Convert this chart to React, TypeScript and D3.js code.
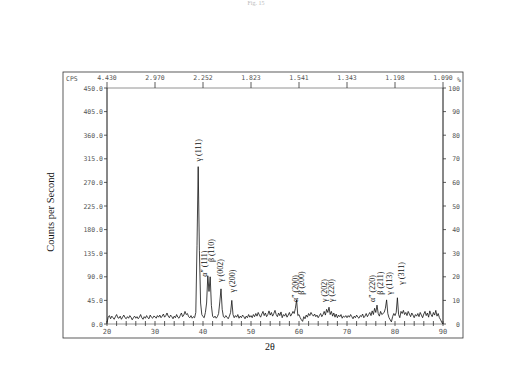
import * as d3 from 'd3'

// 2θ grid: 20° to 90°, 0.25° step
const START = 20
const STEP = 0.25
const counts = [
  // 20 - 29.75
  3, 13, 16, 10, 15, 12, 9, 14, 18, 12, 11, 15, 9, 13, 17, 12, 10, 14, 11, 16,
  13, 8, 12, 15, 11, 14, 10, 13, 18, 12, 9, 14, 11, 16, 12, 10, 17, 13, 11, 15,
  // 30 - 39.75
  14, 11, 16, 13, 17, 12, 15, 19, 13, 16, 21, 15, 12, 17, 14, 10, 15, 12, 18, 13,
  11, 16, 21, 14, 17, 24, 18, 20, 14, 12, 16, 11, 14, 12, 22, 150, 300, 140, 40, 18,
  // 40 - 49.75
  14, 12, 22, 40, 92, 62, 90, 35, 15, 12, 15, 11, 14, 20, 42, 67, 28, 14, 12, 16,
  13, 10, 15, 22, 45, 18, 12, 16, 13, 18, 11, 15, 12, 17, 14, 10, 15, 12, 18, 13,
  // 50 - 59.75
  16, 12, 18, 14, 20, 15, 22, 17, 13, 19, 24, 16, 21, 14, 18, 25, 17, 22, 15, 20,
  26, 18, 14, 21, 16, 23, 12, 18, 15, 20, 13, 17, 22, 15, 19, 24, 20, 30, 46, 16,
  // 60 - 69.75
  18, 12, 8, 5, 14, 10, 17, 13, 20, 16, 22, 18, 15, 19, 14, 17, 12, 16, 20, 14,
  18, 24, 17, 28, 22, 32, 18, 24, 15, 21, 13, 19, 12, 17, 14, 18, 11, 15, 13, 16,
  // 70 - 79.75
  12, 16, 13, 18, 14, 10, 15, 12, 17, 13, 11, 16, 14, 19, 12, 15, 20, 14, 18, 22,
  16, 25, 18, 30, 22, 36, 20, 15, 24, 18, 20, 22, 30, 46, 20, 12, 8, 4, 14, 20,
  // 80 - 90
  16, 22, 50, 18, 12, 24, 20, 26, 18, 22, 16, 24, 19, 14, 21, 17, 12, 18, 15, 20,
  14, 22, 17, 12, 19, 24, 16, 21, 13, 25, 18, 14, 22, 17, 26, 15, 20, 12, 8, 3, 0,
]

const leftTicks = [0, 45, 90, 135, 180, 225, 270, 315, 360, 405, 450]
const rightTicks = [0, 10, 20, 30, 40, 50, 60, 70, 80, 90, 100]
const xMajor = [20, 30, 40, 50, 60, 70, 80, 90]
const dLabels = ['4.430', '2.970', '2.252', '1.823', '1.541', '1.343', '1.198', '1.090']

// peak annotations: text, 2θ of the label column, counts at label bottom
const peakText = [
  'γ (111)', 'α\u2033 (111)', 'β (110)', 'γ (002)', 'γ (200)',
  'α\u2033 (200)', 'β (200)', 'γ (202)', 'γ (220)',
  'α\u2033 (220)', 'β (211)', 'γ (113)', 'γ (311)',
]
const peakPos = [38.9, 40.2, 41.7, 43.6, 46.1, 59.2, 60.4, 65.3, 66.6, 75.2, 76.8, 78.8, 81.2]
const peakBase = [310, 90, 118, 80, 60, 42, 56, 42, 42, 42, 56, 56, 75]

export default function App() {
  const W = 512
  const H = 369
  const x = d3.scaleLinear().domain([20, 90]).range([107, 443])
  const y = d3.scaleLinear().domain([0, 450]).range([324, 88])
  const yr = d3.scaleLinear().domain([0, 100]).range([324, 88])

  const line = d3
    .line<number>()
    .x((_, i) => x(START + i * STEP))
    .y((d) => y(d))

  const minor = d3.range(20, 91, 2)
  const mono = 'DejaVu Sans Mono, monospace'
  const serif = 'Liberation Serif, Times New Roman, serif'
  const grey = '#555'

  return (
    <svg width={W} height={H} style={{ position: 'absolute', left: 0, top: 0, background: '#fff' }}>
      <rect width={W} height={H} fill="#fff" />
      <text x={256} y={5} fontSize={6} fill="#bbb" fontFamily={serif} textAnchor="middle">Fig. 15</text>

      {/* outer frame */}
      <rect x={63} y={72} width={400} height={266} fill="none" stroke="#333" strokeWidth={0.8} />

      {/* plot box */}
      <line x1={107} x2={443} y1={88} y2={88} stroke="#777" strokeWidth={0.8} />
      <line x1={107} x2={107} y1={88} y2={324} stroke="#111" strokeWidth={1} />
      <line x1={443} x2={443} y1={88} y2={324} stroke="#111" strokeWidth={1} />
      <line x1={107} x2={443} y1={324} y2={324} stroke="#777" strokeWidth={0.8} />

      {/* top d-spacing axis */}
      <text x={66} y={81} fontSize={6.5} fill={grey} fontFamily={mono}>CPS</text>
      {xMajor.map((v, i) => (
        <g key={'d' + v}>
          <line x1={x(v)} x2={x(v)} y1={88} y2={82} stroke="#333" strokeWidth={0.8} />
          <text x={x(v)} y={80} fontSize={6.5} fill={grey} fontFamily={mono} textAnchor="middle">{dLabels[i]}</text>
        </g>
      ))}
      <text x={459} y={82} fontSize={6.5} fill={grey} fontFamily={mono} textAnchor="middle">%</text>

      {/* left axis */}
      {leftTicks.map((v) => (
        <g key={'l' + v}>
          <line x1={104} x2={107} y1={y(v)} y2={y(v)} stroke="#333" strokeWidth={0.8} />
          <text x={103} y={y(v) + 2.5} fontSize={6.5} fill={grey} fontFamily={mono} textAnchor="end">{v.toFixed(1)}</text>
        </g>
      ))}

      {/* right axis */}
      {rightTicks.map((v) => (
        <g key={'r' + v}>
          <line x1={443} x2={446} y1={yr(v)} y2={yr(v)} stroke="#333" strokeWidth={0.8} />
          <text x={460} y={yr(v) + 2.5} fontSize={6.5} fill={grey} fontFamily={mono} textAnchor="end">{v}</text>
        </g>
      ))}

      {/* bottom axis */}
      {minor.map((v) => (
        <line key={'m' + v} x1={x(v)} x2={x(v)} y1={321} y2={326} stroke="#333" strokeWidth={0.8} />
      ))}
      {xMajor.map((v) => (
        <text key={'b' + v} x={x(v)} y={334} fontSize={7} fill={grey} fontFamily={mono} textAnchor="middle">{v}</text>
      ))}

      {/* pattern */}
      <path d={line(counts) || ''} fill="none" stroke="#111" strokeWidth={0.8} strokeLinejoin="round" />

      {/* peak labels */}
      {peakText.map((t, i) => {
        const px = x(peakPos[i]) + 3
        const py = y(peakBase[i])
        return (
          <text
            key={'p' + i}
            x={px}
            y={py}
            transform={`rotate(-90 ${px} ${py})`}
            fontSize={8}
            fill="#111"
            fontFamily={serif}
          >
            {t}
          </text>
        )
      })}

      {/* axis titles */}
      <text
        x={54}
        y={212}
        transform="rotate(-90 54 212)"
        fontSize={10.5}
        fontFamily={serif}
        textAnchor="middle"
        fill="#111"
      >
        Counts per Second
      </text>
      <text x={270} y={350} fontSize={10} fontFamily={serif} textAnchor="middle" fill="#111">2θ</text>
    </svg>
  )
}
